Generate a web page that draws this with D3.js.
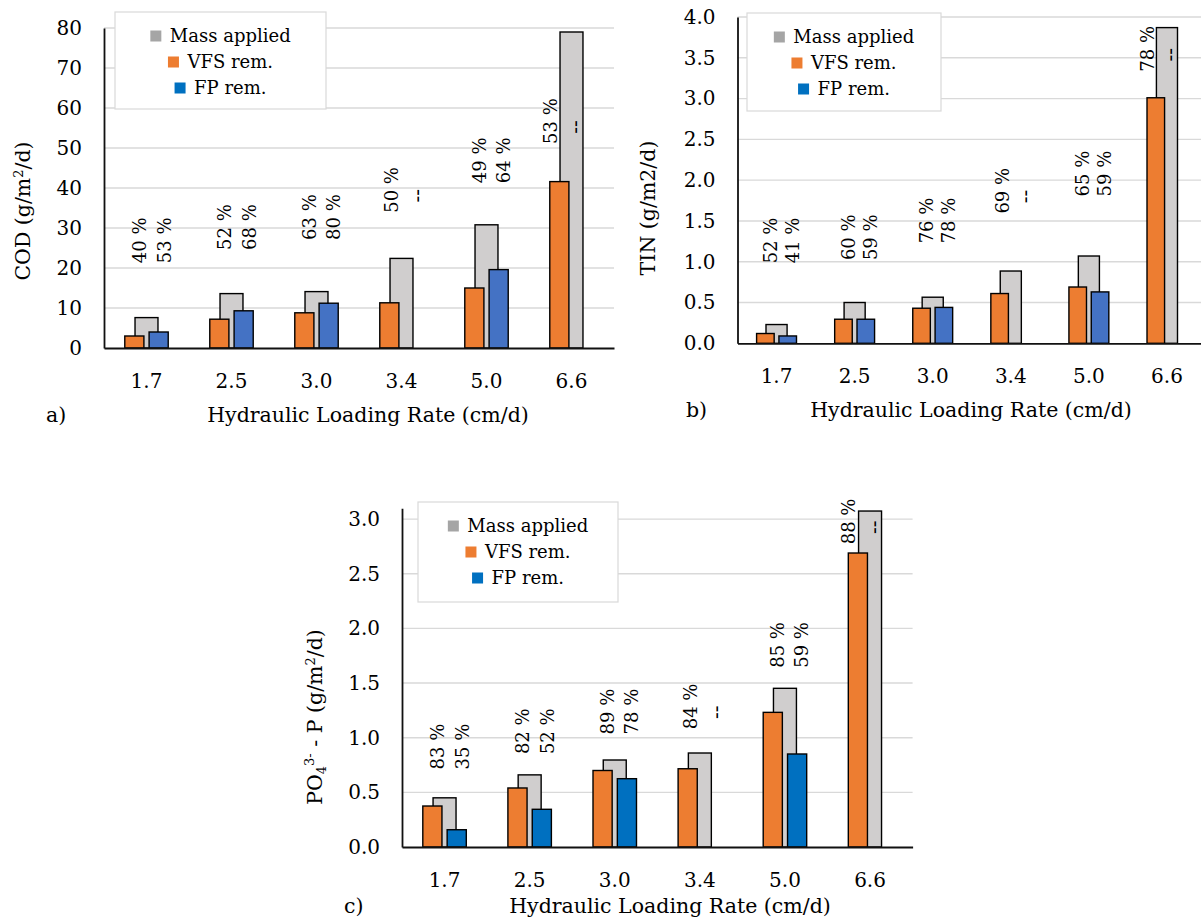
<!DOCTYPE html>
<html>
<head>
<meta charset="utf-8">
<script src="https://cdn.jsdelivr.net/npm/d3@7"></script>
<style>
  html, body { margin: 0; padding: 0; background: #fff; }
  svg { display: block; }
</style>
</head>
<body>
<svg id="chart" width="1201" height="924"></svg>
<script>
// ---------------- DATA ----------------
const categories = ["1.7", "2.5", "3.0", "3.4", "5.0", "6.6"];
const seriesNames = ["Mass applied", "VFS rem.", "FP rem."];

// a) COD (g/m2/d)
const codMass = [7.6, 13.6, 14.1, 22.4, 30.8, 79.0];
const codVFS  = [3.0, 7.2, 8.8, 11.3, 15.0, 41.6];
const codFP   = [4.0, 9.3, 11.2, null, 19.6, null];
const codVFSpct = ["40 %", "52 %", "63 %", "50 %", "49 %", "53 %"];
const codFPpct  = ["53 %", "68 %", "80 %", "--", "64 %", "--"];
const codLabelAt = [21.2, 24.5, 27, 33.8, 41.2, 51];
const codTicks = [0, 10, 20, 30, 40, 50, 60, 70, 80];

// b) TIN (g/m2/d)
const tinMass = [0.23, 0.50, 0.565, 0.886, 1.07, 3.87];
const tinVFS  = [0.12, 0.295, 0.43, 0.61, 0.69, 3.01];
const tinFP   = [0.09, 0.295, 0.44, null, 0.63, null];
const tinVFSpct = ["52 %", "60 %", "76 %", "69 %", "65 %", "78 %"];
const tinFPpct  = ["41 %", "59 %", "78 %", "--", "59 %", "--"];
const tinLabelAt = [0.98, 1.02, 1.225, 1.59, 1.8, 3.33];
const tinTicks = [0, 0.5, 1.0, 1.5, 2.0, 2.5, 3.0, 3.5, 4.0];

// c) PO4-P (g/m2/d)
const poMass = [0.45, 0.66, 0.796, 0.86, 1.452, 3.074];
const poVFS  = [0.375, 0.54, 0.70, 0.716, 1.232, 2.69];
const poFP   = [0.158, 0.345, 0.625, null, 0.851, null];
const poVFSpct = ["83 %", "82 %", "89 %", "84 %", "85 %", "88 %"];
const poFPpct  = ["35 %", "52 %", "78 %", "--", "59 %", "--"];
const poLabelAt = [0.71, 0.85, 1.03, 1.077, 1.64, 2.77];
const poTicks = [0, 0.5, 1.0, 1.5, 2.0, 2.5, 3.0];

// ---------------- STYLE / LAYOUT ----------------
const FONT = "'DejaVu Serif', 'Liberation Serif', serif";
const TEXT = "#000";
const GRID = "#d9d9d9";
const C_MASS = "#D0CECE", C_VFS = "#ED7D31", C_FP_AB = "#4472C4", C_FP_C = "#0070C0";
const LEG_MASS = "#A5A5A5", LEG_VFS = "#ED7D31", LEG_FP = "#0070C0";
const FS_TICK = 20, FS_TITLE = 20.5, FS_LEG = 18, FS_PCT = 18;
// annotation column offsets as fractions of the category band
const labelCol1 = [-0.08, -0.08, -0.08, -0.11, -0.08, -0.25];
const labelCol2 = [0.21, 0.21, 0.2, 0.19, 0.2, 0.05];

const svg = d3.select("#chart");

function drawPanel(p) {
  const g = svg.append("g");
  const x = d3.scaleBand().domain(categories).range([p.x0, p.x1]);
  const y = d3.scaleLinear().domain([0, p.ymax]).range([p.y0, p.yTop]);
  const bw = x.bandwidth();
  const cx = c => x(c) + bw / 2;

  // gridlines
  g.append("g").selectAll("line")
    .data(p.ticks.filter(t => t > 0))
    .join("line")
    .attr("x1", p.x0).attr("x2", p.x1)
    .attr("y1", d => y(d)).attr("y2", d => y(d))
    .attr("stroke", GRID).attr("stroke-width", 1.4);

  // y axis
  const ya = g.append("g").attr("transform", `translate(${p.x0},0)`)
    .call(d3.axisLeft(y).tickValues(p.ticks).tickSize(0).tickSizeOuter(0)
      .tickPadding(22).tickFormat(p.fmt));
  ya.attr("font-family", FONT).attr("font-size", FS_TICK);
  ya.selectAll("text").attr("fill", TEXT);
  ya.select(".domain").attr("stroke", "#111").attr("stroke-width", 1.8);

  // bars
  const rows = categories.map((c, i) => ({ c, i, mass: p.mass[i], vfs: p.vfs[i], fp: p.fp[i] }));
  g.append("g").selectAll("rect").data(rows).join("rect")
    .attr("x", d => cx(d.c) - 0.135 * bw).attr("width", 0.27 * bw)
    .attr("y", d => y(d.mass)).attr("height", d => y(0) - y(d.mass))
    .attr("fill", C_MASS).attr("stroke", "#000").attr("stroke-width", 1.4);
  g.append("g").selectAll("rect").data(rows).join("rect")
    .attr("x", d => cx(d.c) - 0.143 * bw - 0.1125 * bw).attr("width", 0.225 * bw)
    .attr("y", d => y(d.vfs)).attr("height", d => y(0) - y(d.vfs))
    .attr("fill", C_VFS).attr("stroke", "#000").attr("stroke-width", 1.4);
  g.append("g").selectAll("rect").data(rows.filter(d => d.fp != null)).join("rect")
    .attr("x", d => cx(d.c) + 0.143 * bw - 0.1125 * bw).attr("width", 0.225 * bw)
    .attr("y", d => y(d.fp)).attr("height", d => y(0) - y(d.fp))
    .attr("fill", p.fpColor).attr("stroke", "#000").attr("stroke-width", 1.4);

  // x axis
  const xa = g.append("g").attr("transform", `translate(0,${p.y0})`)
    .call(d3.axisBottom(x).tickSize(0).tickSizeOuter(0).tickPadding(26));
  xa.attr("font-family", FONT).attr("font-size", FS_TICK);
  xa.selectAll("text").attr("fill", TEXT);
  xa.select(".domain").attr("stroke", "#111").attr("stroke-width", 1.8);

  // percentage annotations
  const lab = g.append("g").attr("font-family", FONT).attr("font-size", FS_PCT).attr("fill", TEXT);
  rows.forEach(d => {
    const yb = y(p.labelAt[d.i]);
    const x1 = cx(d.c) + labelCol1[d.i] * bw;
    const x2 = cx(d.c) + labelCol2[d.i] * bw;
    lab.append("text").attr("transform", `translate(${x1},${yb}) rotate(-90)`)
      .attr("dy", "0.35em").text(p.vfsPct[d.i]);
    const t2 = p.fpPct[d.i];
    if (t2 === "--") {
      lab.append("text").attr("transform", `translate(${x2},${yb - 17}) rotate(-90)`)
        .attr("dy", "0.33em").attr("text-anchor", "middle").attr("font-size", 20).text(t2);
    } else {
      lab.append("text").attr("transform", `translate(${x2},${yb}) rotate(-90)`)
        .attr("dy", "0.35em").text(t2);
    }
  });

  // legend
  const L = p.legend;
  const lg = g.append("g");
  lg.append("rect").attr("x", L.x).attr("y", L.y).attr("width", L.w).attr("height", L.h)
    .attr("fill", "#fff").attr("stroke", GRID).attr("stroke-width", 1.2);
  const legColors = [LEG_MASS, LEG_VFS, LEG_FP];
  const rowsY = [24, 50, 76];
  seriesNames.forEach((name, i) => {
    const ry = L.y + rowsY[i];
    const t = lg.append("text").attr("font-family", FONT).attr("font-size", FS_LEG).attr("fill", TEXT)
      .attr("y", ry).attr("dy", "0.35em").text(name);
    const tw = t.node().getComputedTextLength();
    const total = 11 + 8.5 + tw;
    const sx = L.x + L.w / 2 - total / 2;
    t.attr("x", sx + 19.5);
    lg.append("rect").attr("x", sx).attr("y", ry - 5.5).attr("width", 11).attr("height", 11)
      .attr("fill", legColors[i]);
  });

  // axis titles
  g.append("text").attr("font-family", FONT).attr("font-size", FS_TITLE).attr("fill", TEXT)
    .attr("x", p.xTitle[0]).attr("y", p.xTitle[1]).attr("text-anchor", "middle")
    .text("Hydraulic Loading Rate (cm/d)");
  g.append("text").attr("font-family", FONT).attr("font-size", FS_TITLE).attr("fill", TEXT)
    .attr("x", p.tag[0]).attr("y", p.tag[1]).text(p.tagText);

  const yt = g.append("text").attr("font-family", FONT).attr("font-size", FS_TITLE).attr("fill", TEXT)
    .attr("text-anchor", "middle")
    .attr("transform", `translate(${p.yTitle[0]},${p.yTitle[1]}) rotate(-90)`)
    .attr("dy", "0.35em");
  p.yTitleParts.forEach(part => {
    const ts = yt.append("tspan").text(part.t);
    if (part.fs) ts.attr("font-size", part.fs);
    if (part.dy) ts.attr("dy", part.dy);
  });
}

drawPanel({
  x0: 104, x1: 614, y0: 348, yTop: 28, ymax: 80, ticks: codTicks, fmt: d3.format("d"),
  mass: codMass, vfs: codVFS, fp: codFP, vfsPct: codVFSpct, fpPct: codFPpct, labelAt: codLabelAt,
  fpColor: C_FP_AB,
  legend: { x: 115, y: 12, w: 211, h: 97 },
  xTitle: [368, 421.5], tag: [46, 421.5], tagText: "a)",
  yTitle: [23, 211],
  yTitleParts: [{ t: "COD (g/m" }, { t: "2", fs: 13, dy: "-0.55em" }, { t: "/d)", dy: "0.35em" }]
});

drawPanel({
  x0: 737.5, x1: 1206, y0: 343.3, yTop: 17, ymax: 4.0, ticks: tinTicks, fmt: d3.format(".1f"),
  mass: tinMass, vfs: tinVFS, fp: tinFP, vfsPct: tinVFSpct, fpPct: tinFPpct, labelAt: tinLabelAt,
  fpColor: C_FP_AB,
  legend: { x: 747, y: 13, w: 194, h: 98 },
  xTitle: [971, 416.7], tag: [686, 416.7], tagText: "b)",
  yTitle: [648, 208],
  yTitleParts: [{ t: "TIN (g/m2/d)" }]
});

drawPanel({
  x0: 402, x1: 912.6, y0: 847, yTop: 508.2, ymax: 3.1, ticks: poTicks, fmt: d3.format(".1f"),
  mass: poMass, vfs: poVFS, fp: poFP, vfsPct: poVFSpct, fpPct: poFPpct, labelAt: poLabelAt,
  fpColor: C_FP_C,
  legend: { x: 418, y: 502, w: 200, h: 100 },
  xTitle: [670, 913.3], tag: [344, 913.3], tagText: "c)",
  yTitle: [315, 717],
  yTitleParts: [{ t: "PO" }, { t: "4", fs: 13, dy: "0.3em" }, { t: "3-", fs: 13, dy: "-0.95em" },
    { t: " - P (g/m", dy: "0.4em" }, { t: "2", fs: 13, dy: "-0.55em" }, { t: "/d)", dy: "0.35em" }]
});
</script>
</body>
</html>
